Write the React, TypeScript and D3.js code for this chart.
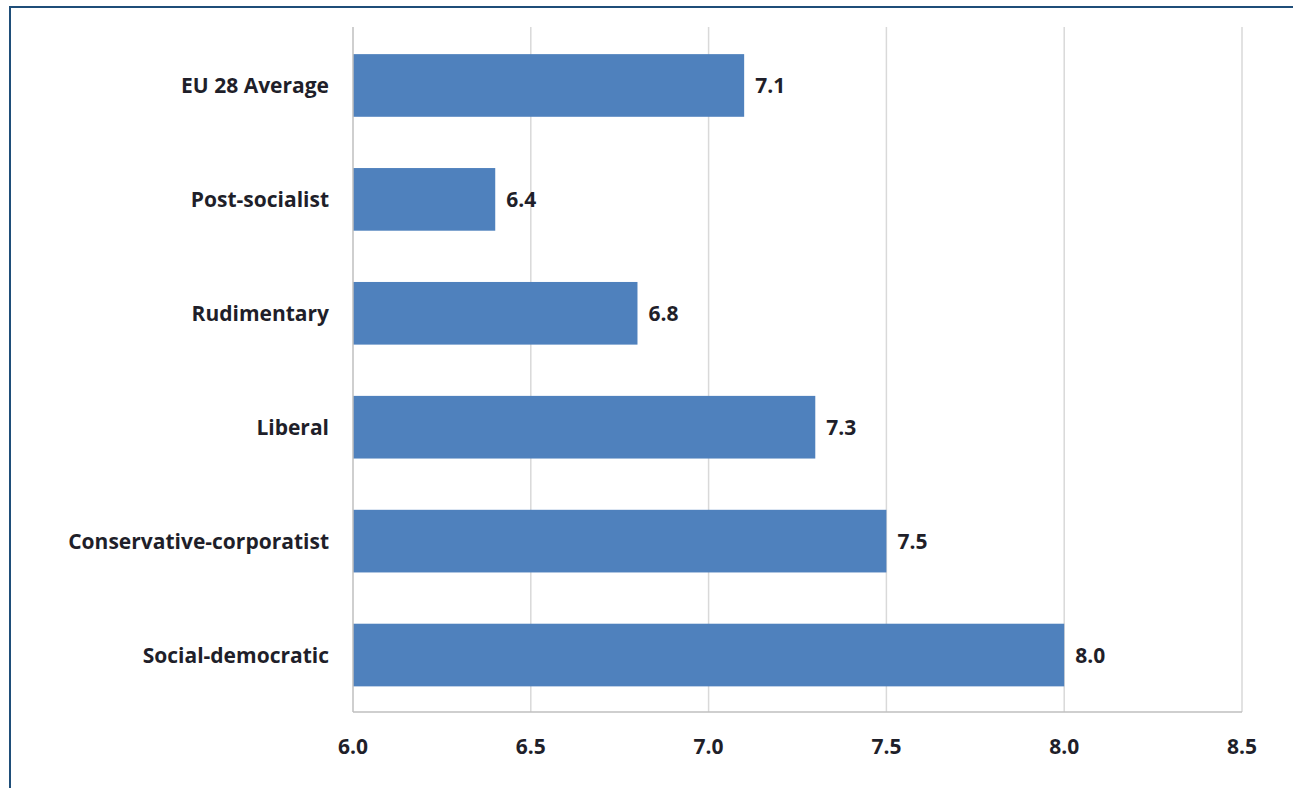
import React, { ReactElement, useEffect, useRef } from "react";
import * as d3 from "d3";

// categories top to bottom
const categories = [
  "EU 28 Average",
  "Post-socialist",
  "Rudimentary",
  "Liberal",
  "Conservative-corporatist",
  "Social-democratic",
];
const values = [7.1, 6.4, 6.8, 7.3, 7.5, 8.0];
const xTicks = [6.0, 6.5, 7.0, 7.5, 8.0, 8.5];

function App(): ReactElement {
  const ref = useRef<SVGSVGElement>(null);

  useEffect(() => {
    const svg = d3.select(ref.current);
    svg.selectAll("*").remove();
    const font = "'Open Sans', Lato, sans-serif";

    const left = 353;
    const right = 1242;
    const top = 27;
    const bottom = 712;

    const x = d3.scaleLinear().domain([6, 8.5]).range([left, right]);
    const y = d3
      .scaleBand()
      .domain(categories)
      .range([top + 1.5, bottom])
      .paddingInner(0.45)
      .paddingOuter(0.225);

    // frame
    svg
      .append("rect")
      .attr("x", 10)
      .attr("y", 7)
      .attr("width", 1300)
      .attr("height", 800)
      .attr("fill", "white")
      .attr("stroke", "#1f4e79")
      .attr("stroke-width", 2);

    // gridlines
    svg
      .append("g")
      .selectAll("line")
      .data(xTicks.slice(1))
      .enter()
      .append("line")
      .attr("x1", (d) => x(d))
      .attr("x2", (d) => x(d))
      .attr("y1", top)
      .attr("y2", bottom)
      .attr("stroke", "#d9d9d9")
      .attr("stroke-width", 1.5);

    // bars
    svg
      .append("g")
      .selectAll("rect")
      .data(values)
      .enter()
      .append("rect")
      .attr("x", x(6))
      .attr("y", (_d, i) => y(categories[i]) || 0)
      .attr("width", (d) => x(d) - x(6))
      .attr("height", y.bandwidth())
      .attr("fill", "#4f81bd");

    // axes lines
    svg
      .append("line")
      .attr("x1", left)
      .attr("x2", left)
      .attr("y1", top)
      .attr("y2", bottom)
      .attr("stroke", "#bfbfbf")
      .attr("stroke-width", 1.5);
    svg
      .append("line")
      .attr("x1", left)
      .attr("x2", right)
      .attr("y1", bottom)
      .attr("y2", bottom)
      .attr("stroke", "#bfbfbf")
      .attr("stroke-width", 1.5);

    const fontSize = 21;

    // value labels
    svg
      .append("g")
      .selectAll("text")
      .data(values)
      .enter()
      .append("text")
      .attr("x", (d) => x(d) + 11)
      .attr("y", (_d, i) => (y(categories[i]) || 0) + y.bandwidth() / 2)
      .attr("dy", "0.36em")
      .attr("font-family", font)
      .attr("font-weight", "bold")
      .attr("font-size", fontSize)
      .attr("fill", "#1f1f2a")
      .text((d) => d.toFixed(1));

    // category labels
    svg
      .append("g")
      .selectAll("text")
      .data(categories)
      .enter()
      .append("text")
      .attr("x", left - 24)
      .attr("y", (d) => (y(d) || 0) + y.bandwidth() / 2)
      .attr("dy", "0.36em")
      .attr("text-anchor", "end")
      .attr("font-family", font)
      .attr("font-weight", "bold")
      .attr("font-size", fontSize)
      .attr("fill", "#1f1f2a")
      .text((d) => d);

    // x tick labels
    svg
      .append("g")
      .selectAll("text")
      .data(xTicks)
      .enter()
      .append("text")
      .attr("x", (d) => x(d))
      .attr("y", 746)
      .attr("dy", "0.36em")
      .attr("text-anchor", "middle")
      .attr("font-family", font)
      .attr("font-weight", "bold")
      .attr("font-size", fontSize)
      .attr("fill", "#1f1f2a")
      .text((d) => d.toFixed(1));
  });

  return (
    <svg
      ref={ref}
      width={1293}
      height={788}
      style={{ position: "absolute", left: 0, top: 0, display: "block" }}
    ></svg>
  );
}

export default App;
